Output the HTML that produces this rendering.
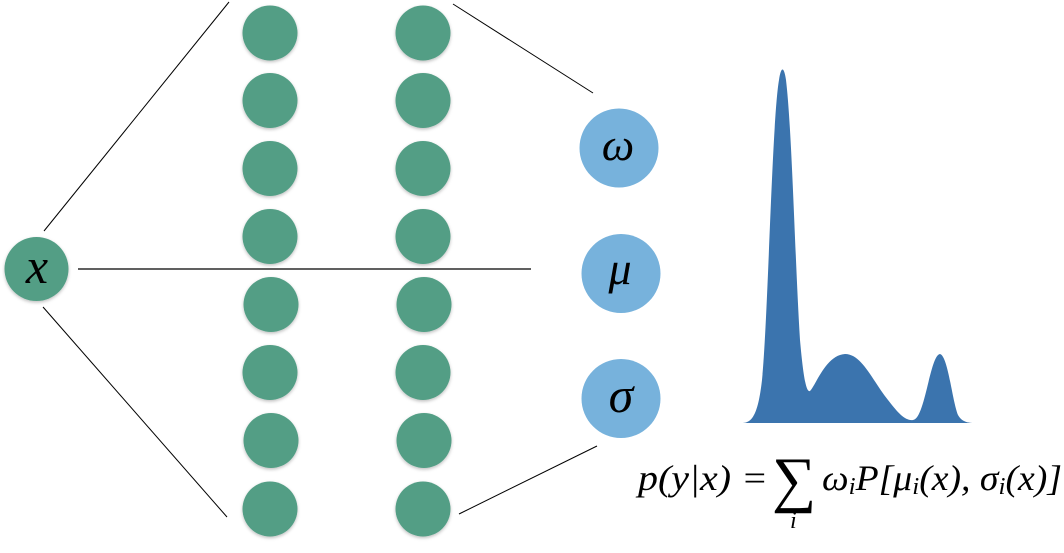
<!DOCTYPE html>
<html><head><meta charset="utf-8"><style>html,body{margin:0;padding:0;background:#fff;}svg{display:block}
.m{font-family:"Liberation Serif","DejaVu Serif",serif;font-style:italic;}</style></head>
<body>
<svg width="1064" height="553" viewBox="0 0 1064 553" xmlns="http://www.w3.org/2000/svg">
<defs>
<filter id="sh" x="-20%" y="-20%" width="140%" height="140%"><feDropShadow dx="0" dy="1.5" stdDeviation="1.5" flood-color="#000" flood-opacity="0.25"/></filter>
</defs>
<g stroke="#000" stroke-width="1" fill="none">
<line x1="229" y1="2" x2="44" y2="231"/>
<line x1="43" y1="307" x2="227" y2="517"/>
<line x1="78" y1="269" x2="531" y2="269" stroke-width="1.3"/>
<line x1="453" y1="4" x2="593" y2="93"/>
<line x1="459" y1="514" x2="597" y2="446"/>
</g>
<g fill="#539e85" filter="url(#sh)">
<circle cx="36.5" cy="269" r="32"/>
<circle cx="270" cy="33" r="27.5"/><circle cx="423" cy="33" r="27.5"/>
<circle cx="270" cy="100.5" r="27.5"/><circle cx="423" cy="100.5" r="27.5"/>
<circle cx="270" cy="168.5" r="27.5"/><circle cx="423" cy="168.5" r="27.5"/>
<circle cx="270" cy="236.5" r="27.5"/><circle cx="423" cy="236.5" r="27.5"/>
<circle cx="271" cy="304.5" r="27.5"/><circle cx="424" cy="304.5" r="27.5"/>
<circle cx="270" cy="372.5" r="27.5"/><circle cx="423" cy="372.5" r="27.5"/>
<circle cx="271" cy="440.5" r="27.5"/><circle cx="424" cy="440.5" r="27.5"/>
<circle cx="270" cy="509" r="27.5"/><circle cx="423" cy="509" r="27.5"/>
</g>
<g fill="#77b2dc">
<circle cx="619" cy="148" r="39.5"/>
<circle cx="621" cy="273.5" r="39.5"/>
<circle cx="621" cy="398.5" r="39.5"/>
</g>
<g class="m" fill="#000" text-anchor="middle">
<text x="37" y="283" font-size="50">x</text>
<text x="618" y="160" font-size="46">ω</text>
<text x="620" y="284" font-size="46">μ</text>
<text x="621" y="412" font-size="50">σ</text>
</g>
<path fill="#3b74ae" d="M742,423 C752,423 758,415 762,380 C768,320 772,120 779,80 C781,66 784,66 786,80 C792,130 795,260 800,340 C804,385 807,392 810,391 C816,385 826,355 845,354 C862,354 872,380 888,400 C898,413 905,421 913,420 C925,419 930,355 940,354 C948,356 952,400 958,415 C962,422 968,423 975,423 Z"/>
<g class="m" fill="#000">
<text x="638" y="490" font-size="36" textLength="130" lengthAdjust="spacingAndGlyphs">p(y|x) =</text>
<text x="772" y="500" font-size="62" style="font-style:normal">∑</text>
<text x="790" y="528" font-size="24">i</text>
<text x="822" y="490" font-size="36" textLength="240" lengthAdjust="spacingAndGlyphs">ω<tspan font-size="24" dy="4">i</tspan><tspan dy="-4">P[μ</tspan><tspan font-size="24" dy="4">i</tspan><tspan dy="-4">(x), σ</tspan><tspan font-size="24" dy="4">i</tspan><tspan dy="-4">(x)]</tspan></text>
</g>
</svg>
</body></html>
